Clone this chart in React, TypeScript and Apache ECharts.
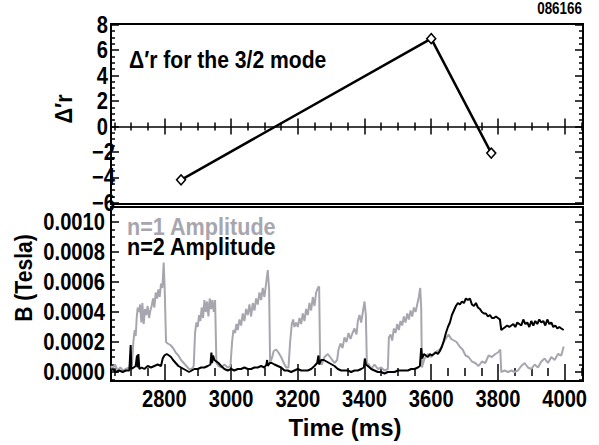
import React, { useEffect, useRef } from "react";
import * as echarts from "echarts";

// ---- data ----
const deltaTimes = [2850, 3600, 3780];
const deltaValues = [-4.2, 6.9, -2.1];

// amplitudes in units of 1e-4 Tesla: [time (ms), amplitude]
const n1Amplitude: number[][] = [
  [2640, 0.4], [2645, 0.2], [2652, 0.5], [2660, 0.1], [2668, 0.3], [2676, 0.1], [2685, 0.2], [2695, 0.3],
  [2703, 0.5], [2707, 2.0], [2711, 2.8], [2714, 2.4], [2717, 3.6], [2720, 4.3], [2724, 4.0], [2727, 4.5],
  [2731, 3.3], [2734, 4.6], [2738, 3.2], [2742, 4.2], [2746, 3.8], [2750, 4.4], [2754, 3.6], [2758, 4.1],
  [2762, 4.4], [2766, 4.9], [2770, 4.3], [2774, 5.3], [2778, 4.9], [2782, 5.5], [2786, 5.0], [2790, 5.9],
  [2794, 5.6], [2798, 7.3], [2801, 5.5], [2805, 2.0], [2810, 1.9], [2818, 1.8], [2826, 1.6], [2834, 1.3],
  [2842, 1.1], [2850, 0.8], [2858, 0.6], [2866, 0.4], [2874, 0.2], [2882, 0.2], [2888, 0.4], [2892, 2.6],
  [2896, 3.3], [2900, 3.0], [2904, 3.8], [2908, 3.4], [2912, 4.3], [2916, 3.6], [2920, 4.8], [2924, 4.0],
  [2928, 4.7], [2932, 3.7], [2936, 4.9], [2940, 4.2], [2944, 4.8], [2948, 4.0], [2952, 4.8], [2956, 0.6],
  [2962, 0.4], [2970, 0.3], [2980, 0.5], [2990, 0.3], [2998, 0.4], [3003, 2.0], [3007, 2.8], [3012, 2.6],
  [3016, 3.2], [3020, 2.8], [3025, 3.5], [3030, 3.1], [3035, 3.9], [3040, 3.4], [3045, 4.2], [3050, 3.8],
  [3055, 4.5], [3060, 3.7], [3065, 4.6], [3070, 4.1], [3075, 4.9], [3080, 4.5], [3085, 5.3], [3090, 4.8],
  [3095, 5.6], [3100, 5.0], [3105, 5.9], [3110, 6.8], [3114, 5.5], [3117, 0.6], [3122, 0.9], [3128, 1.4],
  [3135, 1.5], [3142, 1.3], [3150, 1.0], [3158, 0.6], [3165, 0.3], [3172, 0.3], [3177, 2.0], [3182, 3.2],
  [3186, 3.5], [3190, 3.0], [3195, 3.3], [3200, 3.0], [3205, 3.6], [3210, 3.2], [3215, 3.9], [3220, 3.4],
  [3225, 4.2], [3230, 3.8], [3235, 4.6], [3240, 4.1], [3245, 5.0], [3250, 4.4], [3255, 5.3], [3260, 5.6],
  [3264, 5.7], [3267, 0.6], [3272, 0.5], [3280, 1.0], [3290, 1.2], [3300, 0.9], [3310, 0.6], [3318, 0.8],
  [3322, 1.5], [3328, 1.9], [3334, 1.6], [3340, 2.3], [3346, 2.0], [3352, 2.6], [3358, 2.2], [3364, 2.6],
  [3370, 2.9], [3376, 2.5], [3380, 3.4], [3385, 3.8], [3390, 3.3], [3395, 4.0], [3400, 4.7], [3404, 3.8],
  [3407, 0.6], [3413, 0.5], [3420, 0.2], [3430, 0.5], [3440, 0.2], [3450, 0.3], [3460, 0.1], [3470, 0.2],
  [3473, 2.3], [3478, 2.5], [3483, 2.1], [3488, 2.9], [3493, 2.6], [3498, 3.2], [3503, 2.8], [3508, 3.4],
  [3513, 3.1], [3518, 3.7], [3523, 3.3], [3528, 3.9], [3533, 3.5], [3538, 4.1], [3543, 3.7], [3548, 4.3],
  [3553, 4.0], [3558, 4.5], [3563, 5.0], [3567, 5.6], [3570, 4.2], [3572, 0.3], [3580, 0.9], [3590, 1.2],
  [3600, 1.0], [3610, 1.3], [3620, 1.4], [3630, 1.6], [3640, 2.1], [3646, 2.3], [3652, 2.5], [3660, 2.2],
  [3668, 2.1], [3676, 2.0], [3685, 1.7], [3694, 1.5], [3703, 1.1], [3712, 1.0], [3722, 0.7], [3732, 0.6],
  [3742, 0.4], [3752, 0.7], [3762, 0.6], [3772, 1.1], [3782, 1.0], [3792, 1.2], [3800, 1.3], [3807, 1.5],
  [3810, 0.0], [3820, 0.1], [3830, 0.0], [3840, 0.1], [3850, 0.0], [3860, 0.1], [3870, 0.4], [3880, 0.6],
  [3890, 0.3], [3900, 0.2], [3910, 0.5], [3920, 0.3], [3930, 0.7], [3940, 0.9], [3950, 0.6], [3960, 1.0],
  [3970, 0.8], [3980, 1.2], [3990, 1.1], [3997, 1.7],
];

const n2Amplitude: number[][] = [
  [2640, 0.1], [2645, 0.2], [2655, 0.0], [2665, 0.1], [2675, 0.0], [2685, 0.1], [2695, 0.1], [2699, 1.8],
  [2701, 0.2], [2708, 0.3], [2714, 0.4], [2718, 1.1], [2720, 0.3], [2722, 1.2], [2725, 0.2], [2732, 0.3],
  [2740, 0.2], [2750, 0.4], [2760, 0.3], [2770, 0.4], [2780, 0.5], [2790, 0.4], [2795, 0.9], [2800, 1.1],
  [2807, 1.2], [2814, 1.1], [2820, 1.0], [2826, 0.8], [2834, 0.6], [2842, 0.4], [2850, 0.3], [2858, 0.2],
  [2866, 0.1], [2874, 0.0], [2882, 0.1], [2890, 0.2], [2900, 0.2], [2910, 0.3], [2920, 0.3], [2930, 0.4],
  [2938, 0.5], [2941, 1.3], [2943, 0.6], [2946, 1.1], [2950, 0.8], [2956, 0.7], [2962, 0.6], [2970, 0.4],
  [2980, 0.2], [2990, 0.1], [3000, 0.2], [3010, 0.1], [3020, 0.2], [3030, 0.2], [3040, 0.3], [3050, 0.2],
  [3060, 0.2], [3070, 0.3], [3080, 0.3], [3090, 0.4], [3100, 0.3], [3106, 0.5], [3108, 0.8], [3110, 0.4],
  [3116, 0.6], [3122, 0.6], [3130, 0.5], [3140, 0.4], [3150, 0.3], [3160, 0.1], [3170, 0.1], [3180, 0.0],
  [3190, 0.1], [3200, 0.2], [3210, 0.1], [3220, 0.1], [3230, 0.1], [3240, 0.2], [3250, 0.4], [3258, 0.6],
  [3262, 1.1], [3264, 0.5], [3270, 0.8], [3278, 0.8], [3286, 0.7], [3294, 0.6], [3302, 0.5], [3310, 0.4],
  [3320, 0.2], [3330, 0.1], [3340, 0.1], [3350, 0.1], [3360, 0.0], [3370, 0.1], [3380, 0.1], [3390, 0.2],
  [3398, 0.3], [3401, 0.9], [3404, 0.5], [3410, 0.4], [3420, 0.2], [3430, 0.1], [3440, 0.0], [3450, 0.0],
  [3460, -0.1], [3470, 0.0], [3480, 0.0], [3490, 0.0], [3500, 0.1], [3510, 0.1], [3520, 0.1], [3530, 0.1],
  [3540, 0.2], [3550, 0.2], [3560, 0.3], [3566, 0.4], [3570, 1.6], [3573, 0.9], [3578, 1.2], [3584, 1.1],
  [3590, 1.0], [3596, 1.2], [3602, 1.1], [3608, 1.2], [3614, 1.3], [3620, 1.2], [3626, 1.4], [3632, 1.7],
  [3638, 2.1], [3644, 2.6], [3650, 3.0], [3656, 3.3], [3662, 3.8], [3668, 4.1], [3674, 4.4], [3680, 4.6],
  [3686, 4.5], [3692, 4.7], [3698, 4.6], [3704, 4.9], [3710, 4.8], [3716, 4.9], [3722, 4.5], [3728, 4.4],
  [3734, 4.6], [3740, 4.3], [3746, 4.2], [3752, 4.0], [3758, 3.9], [3764, 3.9], [3770, 3.7], [3776, 3.8],
  [3782, 3.6], [3788, 3.6], [3794, 3.7], [3800, 3.6], [3806, 3.5], [3810, 2.8], [3816, 2.9], [3822, 3.0],
  [3828, 3.1], [3834, 3.0], [3840, 3.1], [3846, 3.2], [3852, 3.0], [3858, 3.3], [3864, 3.2], [3870, 3.1],
  [3876, 3.5], [3882, 3.2], [3888, 3.3], [3894, 3.0], [3900, 3.4], [3906, 3.1], [3912, 3.4], [3918, 3.2],
  [3924, 3.5], [3930, 3.3], [3936, 3.4], [3942, 3.1], [3948, 3.5], [3954, 3.2], [3960, 3.3], [3966, 3.0],
  [3972, 3.1], [3978, 2.9], [3984, 3.0], [3990, 2.9], [3997, 2.8],
];

// tick values
const xMajorTicks = [2800, 3000, 3200, 3400, 3600, 3800, 4000];
const xMinorTicks = [
  2650, 2700, 2750, 2850, 2900, 2950, 3050, 3100, 3150, 3250, 3300, 3350, 3450, 3500, 3550,
  3650, 3700, 3750, 3850, 3900, 3950, 4050,
];
const topPosLabels = [0, 2, 4, 6, 8];
const topNegLabels = [-6, -4, -2];
const topMajorTicks = [-6, -4, -2, 0, 2, 4, 6, 8];
const topMinorTicks = [-5.5, -5, -4.5, -3.5, -3, -2.5, -1.5, -1, -0.5, 0.5, 1, 1.5, 2.5, 3, 3.5, 4.5, 5, 5.5, 6.5, 7, 7.5];
const botMajorTicks = [0, 2, 4, 6, 8, 10];
const botMinorTicks = [-0.5, 0.5, 1, 1.5, 2.5, 3, 3.5, 4.5, 5, 5.5, 6.5, 7, 7.5, 8.5, 9, 9.5, 10.5];

const X_MIN = 2640;
const X_MAX = 4055;
const GREY = "#a7a6ae";
const FONT = "'Liberation Sans', Arial, Helvetica, sans-serif";
const NARROW = 0.84;

function App() {
  const ref = useRef<HTMLDivElement>(null);
  useEffect(() => {
    if (!ref.current) return;
    const chart = echarts.init(ref.current, null, { renderer: "svg" });

    const tick = (vals: number[], len: number) => ({
      show: true,
      inside: true,
      length: len,
      customValues: vals,
      lineStyle: { color: "#000", width: 1.5 },
    });
    const noLabel = { show: false };

    const xAxes: any[] = [];
    const yAxes: any[] = [];
    [0, 1].forEach((g) => {
      const base = {
        type: "value",
        gridIndex: g,
        min: X_MIN,
        max: X_MAX,
        splitLine: { show: false },
        axisLine: { show: false },
        axisLabel: noLabel,
      };
      xAxes.push({ ...base, position: "bottom", axisTick: tick(xMajorTicks, 8) });
      xAxes.push({ ...base, position: "bottom", axisTick: tick(xMinorTicks, 4) });
      xAxes.push({ ...base, position: "top", axisTick: tick(xMajorTicks, 8) });
      xAxes.push({ ...base, position: "top", axisTick: tick(xMinorTicks, 4) });
    });

    const yTop = { type: "value", gridIndex: 0, min: -6.1, max: 8.05, splitLine: { show: false }, axisLine: { show: false }, axisLabel: noLabel };
    yAxes.push({ ...yTop, position: "left", axisTick: tick(topMajorTicks, 8) });
    yAxes.push({ ...yTop, position: "left", axisTick: tick(topMinorTicks, 4) });
    yAxes.push({ ...yTop, position: "right", axisTick: tick(topMajorTicks, 8) });
    yAxes.push({ ...yTop, position: "right", axisTick: tick(topMinorTicks, 4) });

    const yBot = { type: "value", gridIndex: 1, min: -0.6, max: 11, splitLine: { show: false }, axisLine: { show: false }, axisLabel: noLabel };
    yAxes.push({ ...yBot, position: "left", axisTick: tick(botMajorTicks, 8) });
    yAxes.push({ ...yBot, position: "left", axisTick: tick(botMinorTicks, 4) });
    yAxes.push({ ...yBot, position: "right", axisTick: tick(botMajorTicks, 8) });
    yAxes.push({ ...yBot, position: "right", axisTick: tick(botMinorTicks, 4) });

    chart.setOption({
      animation: false,
      backgroundColor: "#fff",
      grid: [
        { left: 111, top: 24, width: 472, height: 180, show: true, borderColor: "#000", borderWidth: 2, backgroundColor: "transparent" },
        { left: 111, top: 207, width: 472, height: 174, show: true, borderColor: "#000", borderWidth: 2, backgroundColor: "transparent" },
      ],
      xAxis: xAxes,
      yAxis: yAxes,
      series: [
        {
          type: "line",
          xAxisIndex: 0,
          yAxisIndex: 0,
          data: deltaTimes.map((t, i) => [t, deltaValues[i]]),
          symbol: "diamond",
          symbolSize: [9, 10],
          itemStyle: { color: "#fff", borderColor: "#000", borderWidth: 1.5 },
          lineStyle: { color: "#000", width: 2.5 },
          z: 3,
          markLine: {
            silent: true,
            symbol: "none",
            label: { show: false },
            lineStyle: { color: "#000", width: 1.5, type: "solid" },
            data: [{ yAxis: 0 }],
          },
        },
        {
          type: "line",
          xAxisIndex: 4,
          yAxisIndex: 4,
          data: n1Amplitude,
          showSymbol: false,
          symbol: "none",
          lineStyle: { color: GREY, width: 2 },
        },
        {
          type: "line",
          xAxisIndex: 4,
          yAxisIndex: 4,
          data: n2Amplitude,
          showSymbol: false,
          symbol: "none",
          lineStyle: { color: "#000", width: 2 },
        },
      ],
    });

    const txt = (text: string, x: number, y: number, extra: any = {}, rotation = 0, scaleX = NARROW) => ({
      type: "text",
      x,
      y,
      rotation,
      scaleX,
      silent: true,
      style: {
        text,
        fill: "#000",
        fontSize: 24,
        fontWeight: "bold",
        fontFamily: FONT,
        align: "left",
        verticalAlign: "middle",
        ...extra,
      },
    });

    // tick labels placed through the axes' own scales
    const labels: any[] = [];
    xMajorTicks.forEach((v) => {
      const px = chart.convertToPixel({ xAxisIndex: 4 }, v) as number;
      labels.push(txt(String(v), px, 398.5, { align: "center" }));
    });
    topPosLabels.forEach((v) => {
      const py = chart.convertToPixel({ yAxisIndex: 0 }, v) as number;
      labels.push(txt(String(v), 108, py, { align: "right" }));
    });
    topNegLabels.forEach((v) => {
      const py = chart.convertToPixel({ yAxisIndex: 0 }, v) as number;
      labels.push(txt("\u2212" + String(Math.abs(v)), 115, py, { align: "right" }));
    });
    botMajorTicks.forEach((v) => {
      const py = chart.convertToPixel({ yAxisIndex: 4 }, v) as number;
      labels.push(txt((v / 10000).toFixed(4), 105, py, { align: "right" }));
    });

    chart.setOption({
      graphic: [
        ...labels,
        txt("086166", 582, 9, { align: "right", fontSize: 16 }),
        txt("\u0394\u2032r for the 3/2 mode", 129, 60, {}, 0, 0.88),
        txt("n=1 Amplitude", 127, 227, { fill: GREY }, 0, 0.9),
        txt("n=2 Amplitude", 127, 247, {}, 0, 0.9),
        txt("\u0394\u2032r", 64, 109, { align: "center" }, Math.PI / 2, 0.9),
        txt("B (Tesla)", 24, 278, { align: "center" }, Math.PI / 2, 0.88),
        txt("Time (ms)", 345, 427, { align: "center" }, 0, 1),
      ],
    });
    return () => chart.dispose();
  }, []);
  return <div ref={ref} style={{ position: "fixed", left: 0, top: 0, width: 599, height: 445 }} />;
}

export default App;
